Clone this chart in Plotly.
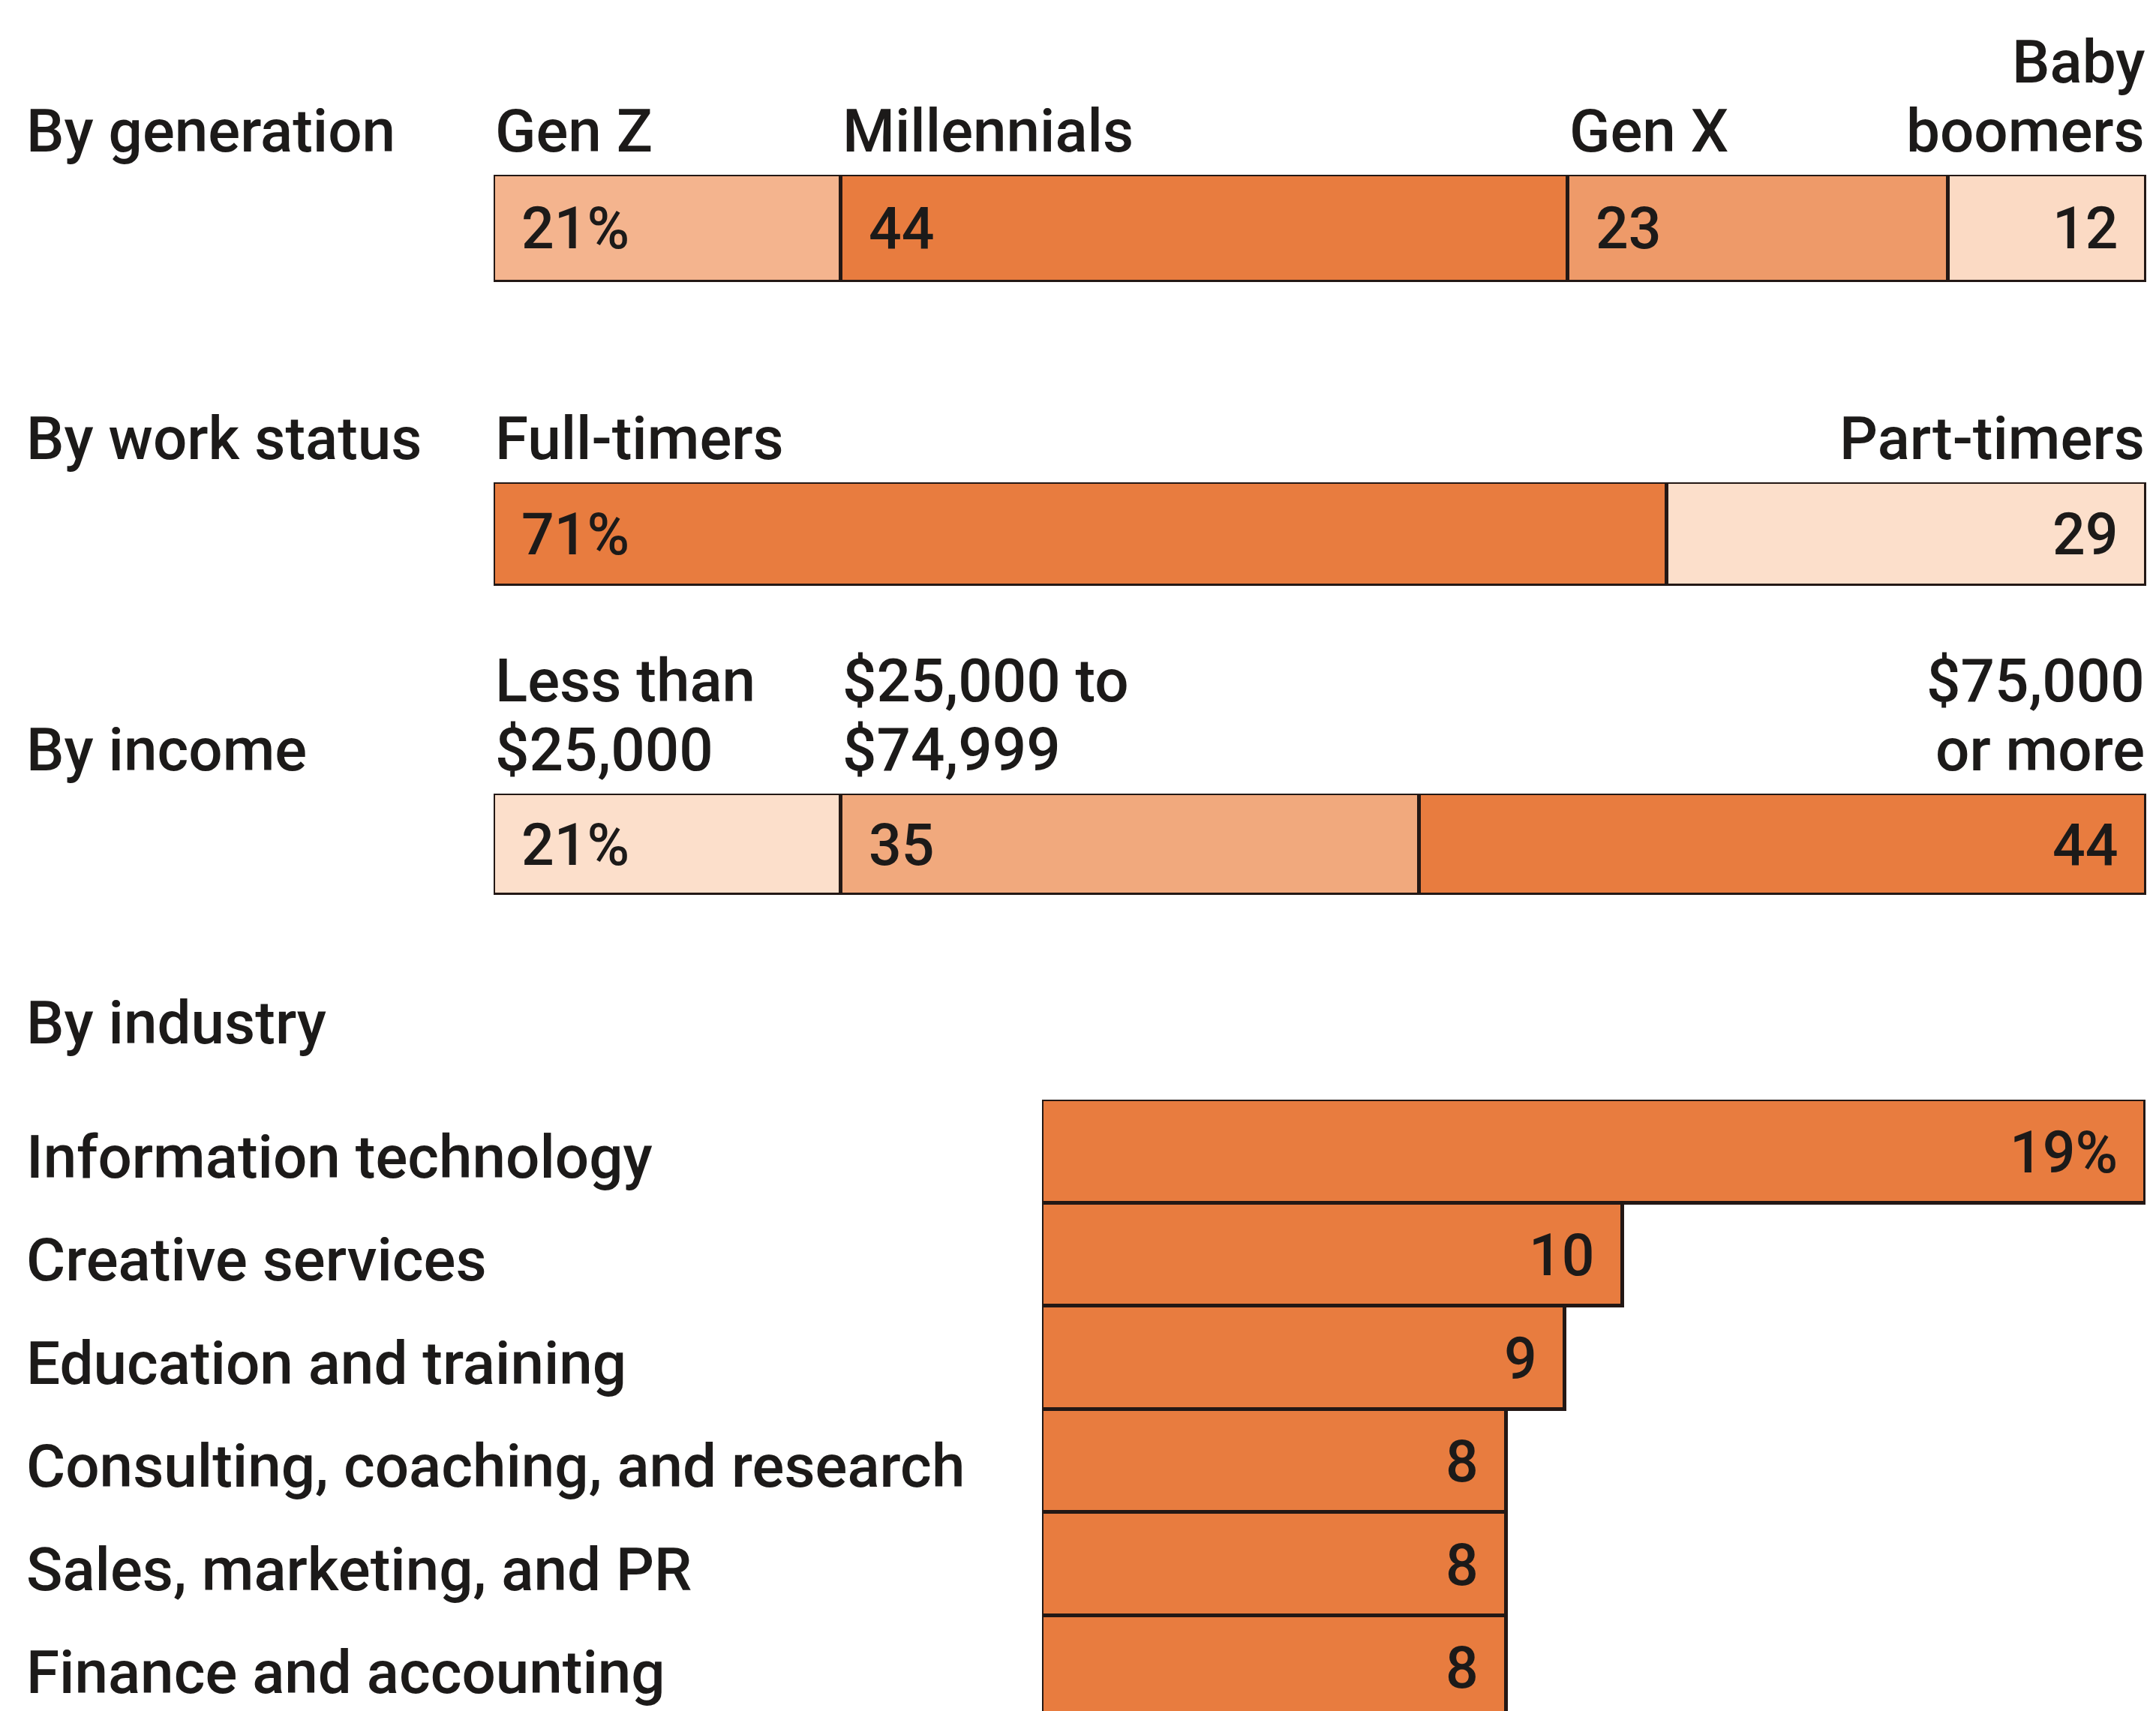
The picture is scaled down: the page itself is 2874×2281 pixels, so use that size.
import numpy as np
import plotly.graph_objects as go

W, H = 2874, 2281
OFF = 8  # default body margin of the html page
WF, HF = W - OFF, H - OFF

generation_labels = ["Gen Z", "Millennials", "Gen X", "Baby<br>boomers"]
generation_values = [21, 44, 23, 12]
generation_colors = ["#F4B48E", "#E87C3F", "#EE9A69", "#FBDAC4"]

work_labels = ["Full-timers", "Part-timers"]
work_values = [71, 29]
work_colors = ["#E87C3F", "#FCDFCB"]

income_labels = ["Less than<br>$25,000", "$25,000 to<br>$74,999", "$75,000<br>or more"]
income_values = [21, 35, 44]
income_colors = ["#FCDFCB", "#F1A97D", "#E87C3F"]

industries = ["Information technology", "Creative services", "Education and training",
              "Consulting, coaching, and research", "Sales, marketing, and PR",
              "Finance and accounting"]
industry_values = [19, 10, 9, 8, 8, 8]
industry_color = "#E87C3F"

row_titles = ["By generation", "By work status", "By income"]

FONT = "Roboto"
TXT = "#1c1a19"
EDGE = "#231815"
FS = 80
VS = 77
LINE = 92  # line spacing of two-line labels, px

def px_y(y):
    # page pixel -> paper fraction
    return 1 - (y - OFF) / HF

def px_x(x):
    return (x - OFF) / WF

# (bar top, bar bottom) in page pixels for the three stacked rows
rows = [
    (generation_labels, generation_values, generation_colors, 233, 376),
    (work_labels, work_values, work_colors, 643, 781),
    (income_labels, income_values, income_colors, 1058, 1193),
]

fig = go.Figure()
annotations = []
DESC = 17  # distance from text box bottom to baseline

def afont(size=FS):
    return dict(size=size, color=TXT, family=FONT, weight=500)

for i, (labels, values, colors, top, bottom) in enumerate(rows):
    n = i + 1
    xa = "x" if n == 1 else f"x{n}"
    ya = "y" if n == 1 else f"y{n}"
    starts = np.cumsum([0] + values[:-1])
    base = top - 26  # baseline of the label line next to the bar
    for j, (lab, val, col) in enumerate(zip(labels, values, colors)):
        fig.add_trace(go.Bar(
            x=[val], y=["row"], orientation="h", width=1,
            marker=dict(color=col, line=dict(color=EDGE, width=5.5)),
            xaxis=xa, yaxis=ya, showlegend=False, hoverinfo="skip",
        ))
        last = j == len(values) - 1
        txt = f"{val}%" if j == 0 else f"{val}"
        annotations.append(dict(
            x=starts[j] + val if last else starts[j], y=0, xref=xa, yref=ya,
            xanchor="right" if last else "left", yanchor="middle",
            xshift=-35 if last else 35, yshift=-1,
            text=txt, showarrow=False, font=afont(VS),
        ))
        lines = lab.split("<br>")
        for k, line in enumerate(reversed(lines)):
            annotations.append(dict(
                x=starts[j] + val if last else starts[j], y=px_y(base - k * LINE + DESC),
                xref=xa, yref="paper",
                xanchor="right" if last else "left", yanchor="bottom",
                text=line, showarrow=False, font=afont(),
            ))
    annotations.append(dict(
        x=px_x(33), y=px_y(base + DESC), xref="paper", yref="paper",
        xanchor="left", yanchor="bottom", text=row_titles[i], showarrow=False,
        font=afont(),
    ))
    fig.update_layout(**{
        ("xaxis" if n == 1 else f"xaxis{n}"): dict(domain=[px_x(658), px_x(2861)], range=[0, 100],
                                                   visible=False, anchor=ya),
        ("yaxis" if n == 1 else f"yaxis{n}"): dict(domain=[px_y(bottom), px_y(top)], range=[-0.5, 0.5],
                                                   visible=False, anchor=xa),
    })

# industry bars
fig.add_trace(go.Bar(
    x=industry_values, y=industries, orientation="h", width=1,
    marker=dict(color=industry_color, line=dict(color=EDGE, width=5.5)),
    xaxis="x4", yaxis="y4", showlegend=False, hoverinfo="skip",
))
for k, (ind, val) in enumerate(zip(industries, industry_values)):
    annotations.append(dict(
        x=val, y=ind, xref="x4", yref="y4", xanchor="right", yanchor="middle",
        xshift=-35, yshift=-2, text=f"{val}%" if k == 0 else f"{val}", showarrow=False,
        font=afont(VS),
    ))
    annotations.append(dict(
        x=px_x(33), y=ind, xref="paper", yref="y4", xanchor="left", yanchor="middle",
        yshift=-8, text=ind, showarrow=False, font=afont(),
    ))
annotations.append(dict(
    x=px_x(33), y=px_y(1396 + DESC), xref="paper", yref="paper",
    xanchor="left", yanchor="bottom", text="By industry", showarrow=False,
    font=afont(),
))

ind_top = 1466
row_h = 137.5
span = (H - ind_top) / row_h
fig.update_layout(
    xaxis4=dict(domain=[px_x(1389), px_x(2860)], range=[0, 19], visible=False, anchor="y4"),
    yaxis4=dict(domain=[0, px_y(ind_top)], range=[span - 0.5, -0.5], visible=False,
                anchor="x4", categoryorder="array", categoryarray=industries),
)

fig.update_layout(
    width=WF, height=HF, margin=dict(l=0, r=0, t=0, b=0),
    barmode="stack", bargap=0,
    paper_bgcolor="white", plot_bgcolor="white",
    annotations=annotations,
    font=dict(family=FONT, color=TXT),
)

fig.write_html("out.html")
